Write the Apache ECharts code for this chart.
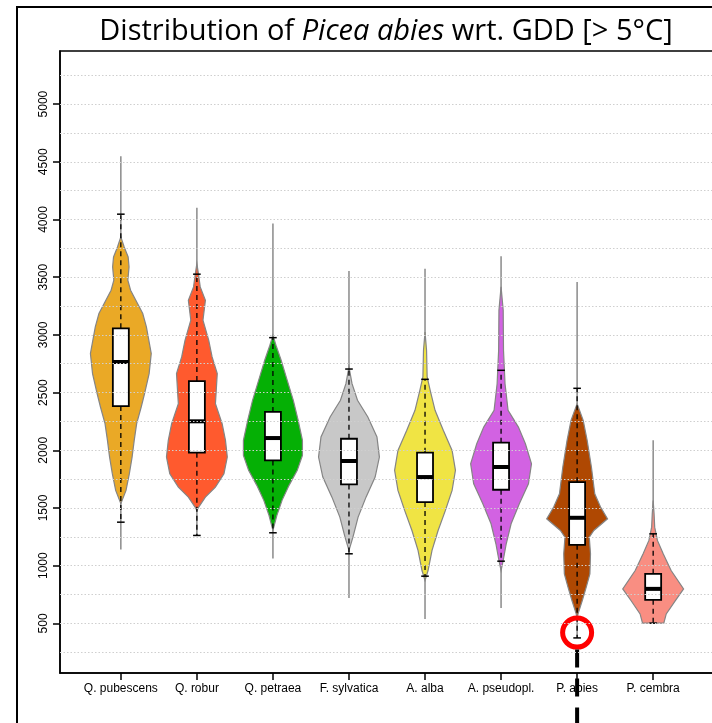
<!DOCTYPE html>
<html>
<head>
<meta charset="utf-8">
<script src="https://cdn.jsdelivr.net/npm/echarts@6/dist/echarts.min.js"></script>
<style>
  html, body { margin: 0; padding: 0; background: #fff; }
  #chart { width: 712px; height: 723px; }
</style>
</head>
<body>
<div id="chart"></div>
<script>
// --- data (GDD > 5В°C) ---
const SPECIES = ['Q. pubescens', 'Q. robur', 'Q. petraea', 'F. sylvatica', 'A. alba', 'A. pseudopl.', 'P. abies', 'P. cembra'];
const COLORS = ['#EAA926', '#FF5A2E', '#05B005', '#C8C8C8', '#F0E444', '#D262E2', '#AF4802', '#F98E82'];

const RANGE_MIN = [1140, 1262, 1062, 721, 539, 634, 374, 502];
const WHISK_LO  = [1377, 1262, 1285, 1103, 909, 1039, 374, 502];
const Q1        = [2383, 1979, 1912, 1704, 1551, 1658, 1181, 704];
const MEDIAN    = [2765, 2251, 2106, 1907, 1768, 1855, 1415, 799];
const Q3        = [3057, 2600, 2332, 2100, 1979, 2066, 1724, 929];
const WHISK_HI  = [4046, 3526, 2976, 2704, 2615, 2693, 2537, 1276];
const RANGE_MAX = [4549, 4101, 3965, 3554, 3572, 3682, 3459, 2086];

// violin outlines: [GDD, relative density 0..1], top to bottom
const VIOLIN_QPUB = [[3849,0],[3762,0.11],[3675,0.24],[3589,0.27],[3474,0.23],[3387,0.32],[3185,0.72],[3069,0.84],[2838,1.0],[2664,0.93],[2491,0.78],[2375,0.67],[2231,0.52],[2086,0.44],[1941,0.37],[1797,0.28],[1652,0.17],[1537,0]];
const VIOLIN_QROB = [[3618,0],[3531,0.05],[3416,0.11],[3300,0.28],[3127,0.2],[2953,0.39],[2809,0.5],[2664,0.67],[2404,0.61],[2230,0.83],[2086,0.94],[1941,1.0],[1797,0.89],[1681,0.61],[1594,0.28],[1508,0.06],[1479,0]];
const VIOLIN_QPET = [[2997,0],[2910,0.1],[2780,0.27],[2606,0.47],[2433,0.67],[2260,0.83],[2086,0.97],[1956,0.97],[1826,0.8],[1696,0.53],[1566,0.3],[1436,0.13],[1305,0]];
const VIOLIN_FSYL = [[2722,0],[2577,0.1],[2433,0.28],[2288,0.62],[2115,0.92],[1941,1.0],[1768,0.86],[1594,0.56],[1421,0.3],[1247,0.13],[1132,0]];
const VIOLIN_AALB = [[3025,0],[2866,0.05],[2635,0.07],[2520,0.17],[2346,0.33],[2173,0.6],[1999,0.89],[1826,1.0],[1652,0.89],[1479,0.67],[1305,0.43],[1132,0.23],[958,0.1],[872,0]];
const VIOLIN_APSE = [[3416,0],[3213,0.07],[2866,0.08],[2577,0.13],[2346,0.23],[2201,0.57],[2057,0.8],[1883,1.0],[1710,0.9],[1537,0.6],[1363,0.33],[1190,0.17],[1045,0.07],[958,0]];
const VIOLIN_PABI = [[2404,0],[2259,0.2],[2086,0.33],[1855,0.47],[1623,0.58],[1508,0.77],[1406,1.0],[1305,0.55],[1247,0.4],[1103,0.44],[929,0.42],[814,0.3],[698,0.17],[582,0.03],[539,0]];
const VIOLIN_PCEM = [[1565,0],[1450,0.03],[1334,0.05],[1219,0.14],[1103,0.33],[958,0.59],[799,1.0],[698,0.73],[582,0.43],[502,0.35]];
const VIOLINS = [VIOLIN_QPUB, VIOLIN_QROB, VIOLIN_QPET, VIOLIN_FSYL, VIOLIN_AALB, VIOLIN_APSE, VIOLIN_PABI, VIOLIN_PCEM];

const Y_TICKS = [500, 1000, 1500, 2000, 2500, 3000, 3500, 4000, 4500, 5000];
const GRID_LINES = [250, 500, 750, 1000, 1250, 1500, 1750, 2000, 2250, 2500, 2750, 3000, 3250, 3500, 3750, 4000, 4250, 4500, 4750, 5000, 5250];
const X_TICKS = [1, 2, 3, 4, 5, 6, 7, 8];

// the circled minimum of P. abies
const HIGHLIGHT_SPECIES = 6;
const HIGHLIGHT_VALUE = 420;

// widths in x-axis units
const HALF_W = 0.4;
const BOX_W = 0.105;
const CAP_W = 0.05;

const chart = echarts.init(document.getElementById('chart'), null, { renderer: 'canvas' });

function seg(a, b, style) {
  return { type: 'line', shape: { x1: a[0], y1: a[1], x2: b[0], y2: b[1] }, style };
}

function renderViolin(params, api) {
  const x = api.value(0);
  const i = x - 1;
  const pt = (dx, v) => api.coord([x + dx, v]);
  const prof = VIOLINS[i];
  const right = prof.map(p => pt(p[1] * HALF_W, p[0]));
  const left = prof.slice().reverse().map(p => pt(-p[1] * HALF_W, p[0]));
  const dashed = { stroke: '#000', lineWidth: 1.3, lineDash: [5, 4] };
  const solid = { stroke: '#000', lineWidth: 1.5 };
  const tl = pt(-BOX_W, Q3[i]);
  const br = pt(BOX_W, Q1[i]);

  const children = [
    seg(pt(0, RANGE_MAX[i]), pt(0, RANGE_MIN[i]), { stroke: '#8a8a8a', lineWidth: 1.5 }),
    { type: 'polygon', shape: { points: right.concat(left) },
      style: { fill: COLORS[i], stroke: '#858585', lineWidth: 1.2 } },
    seg(pt(0, Q3[i]), pt(0, WHISK_HI[i]), dashed),
    seg(pt(0, Q1[i]), pt(0, WHISK_LO[i]), dashed),
    seg(pt(-CAP_W, WHISK_HI[i]), pt(CAP_W, WHISK_HI[i]), solid),
    seg(pt(-CAP_W, WHISK_LO[i]), pt(CAP_W, WHISK_LO[i]), solid),
    { type: 'rect', shape: { x: tl[0], y: tl[1], width: br[0] - tl[0], height: br[1] - tl[1] },
      style: { fill: '#fff', stroke: '#000', lineWidth: 1.8 } },
    seg(pt(-BOX_W, MEDIAN[i]), pt(BOX_W, MEDIAN[i]), { stroke: '#000', lineWidth: 4 })
  ];

  if (i === HIGHLIGHT_SPECIES) {
    const c = pt(0, HIGHLIGHT_VALUE);
    children.push({ type: 'circle', shape: { cx: c[0], cy: c[1], r: 14.5 },
      style: { fill: 'none', stroke: '#ff0000', lineWidth: 5 }, z2: 10 });
    children.push({ type: 'line', shape: { x1: c[0], y1: c[1] + 17, x2: c[0], y2: api.getHeight() },
      style: { stroke: '#000', lineWidth: 4, lineDash: [18, 11] }, z2: 10 });
  }
  return { type: 'group', children };
}

chart.setOption({
  backgroundColor: '#fff',
  animation: false,
  title: {
    text: '{n|Distribution of }{i|Picea abies}{n| wrt. GDD [> 5°C]}',
    left: 381,
    top: 12,
    textAlign: 'center',
    textStyle: {
      fontWeight: 'normal',
      rich: {
        n: { fontFamily: 'Open Sans', fontSize: 29, fontWeight: 'normal', color: '#000' },
        i: { fontFamily: 'Open Sans', fontStyle: 'italic', fontSize: 29, fontWeight: 'normal', color: '#000' }
      }
    }
  },
  graphic: [{
    type: 'rect', silent: true, z: 100,
    shape: { x: 17, y: 7, width: 800, height: 800 },
    style: { fill: 'none', stroke: '#000', lineWidth: 2 }
  }],
  grid: {
    left: 60, top: 51, width: 654, height: 622,
    outerBoundsMode: 'none',
    show: true, borderColor: '#000', borderWidth: 1.5
  },
  xAxis: {
    type: 'value', min: 0.2, max: 8.8,
    axisLine: { show: true, lineStyle: { color: '#000', width: 1.5 } },
    axisTick: { show: true, customValues: X_TICKS, length: 7, lineStyle: { color: '#000', width: 1.5 } },
    axisLabel: {
      customValues: X_TICKS, margin: 10,
      fontFamily: 'Liberation Sans', fontSize: 12, color: '#000',
      formatter: v => SPECIES[Math.round(v) - 1]
    },
    splitLine: { show: false }
  },
  yAxis: {
    type: 'value', min: 70, max: 5460,
    axisLine: { show: true, lineStyle: { color: '#000', width: 1.5 } },
    axisTick: { show: true, customValues: Y_TICKS, length: 7, lineStyle: { color: '#000', width: 1.5 } },
    axisLabel: {
      customValues: Y_TICKS, rotate: 90, margin: 10,
      fontFamily: 'Liberation Sans', fontSize: 12, color: '#000',
      formatter: v => String(v)
    },
    splitLine: { show: false }
  },
  series: [
    {
      type: 'line', data: [], z: 1, silent: true,
      markLine: {
        silent: true, symbol: ['none', 'none'], animation: false,
        label: { show: false },
        lineStyle: { color: '#cfcfcf', width: 1, type: [1.5, 2] },
        data: GRID_LINES.map(v => ({ yAxis: v }))
      }
    },
    {
      type: 'custom', z: 2, silent: true,
      renderItem: renderViolin,
      encode: { x: 0, y: 1 },
      data: SPECIES.map((s, i) => [i + 1, MEDIAN[i]])
    }
  ]
});
</script>
</body>
</html>
